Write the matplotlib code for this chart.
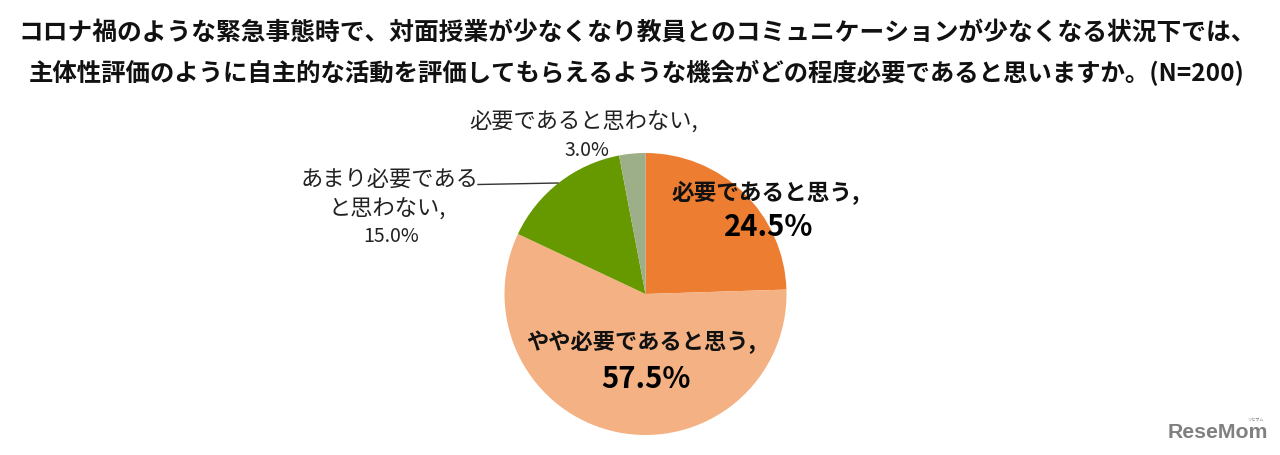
import matplotlib
matplotlib.use("Agg")
import matplotlib.pyplot as plt
from matplotlib.lines import Line2D

plt.rcParams['font.family'] = ['Noto Sans CJK JP', 'DejaVu Sans']

W, H = 1280, 455
title_lines = [
    "コロナ禍のような緊急事態時で、対面授業が少なくなり教員とのコミュニケーションが少なくなる状況下では、",
    "主体性評価のように自主的な活動を評価してもらえるような機会がどの程度必要であると思いますか。(N=200)",
]
categories = ["必要であると思う,", "やや必要であると思う,", "あまり必要である\nと思わない,", "必要であると思わない,"]
values = [24.5, 57.5, 15.0, 3.0]
value_labels = ["24.5%", "57.5%", "15.0%", "3.0%"]
colors = ["#ED7D31", "#F4B183", "#669900", "#9DAF88"]

fig = plt.figure(figsize=(W / 100, H / 100), dpi=100, facecolor="white")

def fx(x): return x / W
def fy(y): return 1 - y / H

# pie: centre (645.5, 294), radius 141 px
cx, cy, r = 645.5, 294, 141
ax = fig.add_axes([fx(cx - r), fy(cy + r), 2 * r / W, 2 * r / H])
ax.pie(values, colors=colors, startangle=90, counterclock=False, radius=1,
       wedgeprops=dict(linewidth=0))
ax.set_xlim(-1, 1)
ax.set_ylim(-1, 1)
ax.axis("off")

def t(x, y, s, size, weight="normal", color="#111111", ha="center"):
    fig.text(fx(x), fy(y), s, fontsize=size, fontweight=weight, color=color,
             ha=ha, va="center")

t(637, 33, title_lines[0], 17.8, "bold")
t(637, 73, title_lines[1], 17.6, "bold")

t(766, 193, categories[0], 16.3, "bold")
t(768.5, 227, value_labels[0], 21, "bold", "#000000")
t(641, 342, categories[1], 16, "bold")
t(645.5, 379, value_labels[1], 21, "bold", "#000000")

line3a, line3b = categories[2].split("\n")
t(390, 179, line3a, 16, color="#222222")
t(387, 209, line3b, 16, color="#222222")
t(391, 236, value_labels[2], 14, color="#222222")
t(584, 121, categories[3], 16, color="#222222")
t(587, 150, value_labels[3], 14, color="#222222")

fig.add_artist(Line2D([fx(478), fx(558)], [fy(184.5), fy(183)], color="#333333", lw=1))

fig.text(fx(1168), fy(432), "ReseMom", fontsize=15.3, fontweight="bold", color="#808080",
         family="Liberation Sans", ha="left", va="center")
fig.text(fx(1255), fy(420.5), "リセマム", fontsize=3, color="#808080", ha="center", va="center")

fig.savefig("out.png", dpi=100)
